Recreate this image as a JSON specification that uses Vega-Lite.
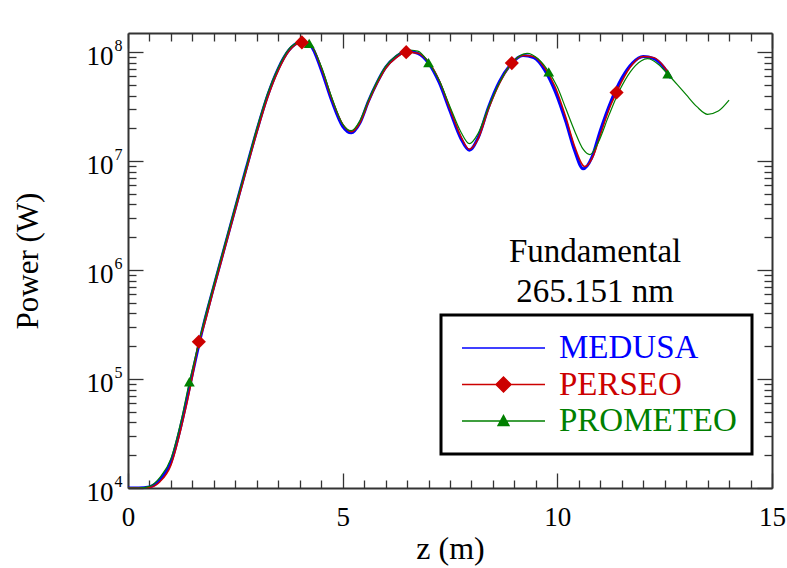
{
  "$schema": "https://vega.github.io/schema/vega-lite/v6.json",
  "width": 644,
  "height": 455,
  "autosize": {"type": "none"},
  "padding": {"left": 128, "top": 33, "right": 15, "bottom": 80},
  "background": "white",
  "config": {
    "view": {"stroke": null},
    "font": "Liberation Serif",
    "axis": {
      "grid": false,
      "labelFont": "Liberation Serif",
      "titleFont": "Liberation Serif",
      "labelColor": "black",
      "titleColor": "black",
      "titleFontWeight": "normal",
      "tickColor": "#333333",
      "domainColor": "#333333",
      "domainWidth": 2,
      "tickWidth": 1.3,
      "labelOverlap": false,
      "labelFlush": false,
      "labelBound": false
    }
  },
  "datasets": {
    "curves": [
      {"series": "MEDUSA", "z": 0, "P": 1e4}, {"series": "MEDUSA", "z": 0.25, "P": 1e4}, {"series": "MEDUSA", "z": 0.5, "P": 1.023e4}, {"series": "MEDUSA", "z": 0.75, "P": 1.202e4}, {"series": "MEDUSA", "z": 1.0, "P": 1.738e4}, {"series": "MEDUSA", "z": 1.25, "P": 3.981e4}, {"series": "MEDUSA", "z": 1.5, "P": 1.122e5}, {"series": "MEDUSA", "z": 1.75, "P": 3.02e5}, {"series": "MEDUSA", "z": 2.0, "P": 7.079e5}, {"series": "MEDUSA", "z": 2.25, "P": 1.622e6}, {"series": "MEDUSA", "z": 2.5, "P": 3.715e6}, {"series": "MEDUSA", "z": 2.75, "P": 8.511e6}, {"series": "MEDUSA", "z": 3.0, "P": 1.905e7}, {"series": "MEDUSA", "z": 3.25, "P": 3.981e7}, {"series": "MEDUSA", "z": 3.5, "P": 7.079e7}, {"series": "MEDUSA", "z": 3.75, "P": 1.047e8}, {"series": "MEDUSA", "z": 4.0, "P": 1.23e8}, {"series": "MEDUSA", "z": 4.25, "P": 1.148e8}, {"series": "MEDUSA", "z": 4.5, "P": 6.918e7}, {"series": "MEDUSA", "z": 4.75, "P": 3.548e7}, {"series": "MEDUSA", "z": 5.0, "P": 2.089e7}, {"series": "MEDUSA", "z": 5.2, "P": 1.82e7}, {"series": "MEDUSA", "z": 5.4, "P": 2.239e7}, {"series": "MEDUSA", "z": 5.6, "P": 3.548e7}, {"series": "MEDUSA", "z": 5.8, "P": 5.248e7}, {"series": "MEDUSA", "z": 6.0, "P": 7.244e7}, {"series": "MEDUSA", "z": 6.25, "P": 9.12e7}, {"series": "MEDUSA", "z": 6.5, "P": 1.023e8}, {"series": "MEDUSA", "z": 6.75, "P": 9.772e7}, {"series": "MEDUSA", "z": 7.0, "P": 7.943e7}, {"series": "MEDUSA", "z": 7.25, "P": 5.248e7}, {"series": "MEDUSA", "z": 7.5, "P": 2.884e7}, {"series": "MEDUSA", "z": 7.75, "P": 1.622e7}, {"series": "MEDUSA", "z": 7.95, "P": 1.259e7}, {"series": "MEDUSA", "z": 8.15, "P": 1.622e7}, {"series": "MEDUSA", "z": 8.4, "P": 3.162e7}, {"series": "MEDUSA", "z": 8.65, "P": 5.37e7}, {"series": "MEDUSA", "z": 8.9, "P": 7.586e7}, {"series": "MEDUSA", "z": 9.2, "P": 9.333e7}, {"series": "MEDUSA", "z": 9.45, "P": 8.913e7}, {"series": "MEDUSA", "z": 9.7, "P": 6.918e7}, {"series": "MEDUSA", "z": 9.95, "P": 4.365e7}, {"series": "MEDUSA", "z": 10.2, "P": 2.291e7}, {"series": "MEDUSA", "z": 10.4, "P": 1.259e7}, {"series": "MEDUSA", "z": 10.6, "P": 8.511e6}, {"series": "MEDUSA", "z": 10.8, "P": 1.072e7}, {"series": "MEDUSA", "z": 11.0, "P": 1.905e7}, {"series": "MEDUSA", "z": 11.25, "P": 3.548e7}, {"series": "MEDUSA", "z": 11.5, "P": 5.754e7}, {"series": "MEDUSA", "z": 11.75, "P": 7.943e7}, {"series": "MEDUSA", "z": 12.0, "P": 9.12e7}, {"series": "MEDUSA", "z": 12.25, "P": 8.71e7}, {"series": "MEDUSA", "z": 12.5, "P": 7.079e7}, {"series": "MEDUSA", "z": 12.65, "P": 5.754e7},
      {"series": "PERSEO", "z": 0, "P": 1e4}, {"series": "PERSEO", "z": 0.25, "P": 1e4}, {"series": "PERSEO", "z": 0.5, "P": 1.012e4}, {"series": "PERSEO", "z": 0.75, "P": 1.148e4}, {"series": "PERSEO", "z": 1.0, "P": 1.622e4}, {"series": "PERSEO", "z": 1.25, "P": 3.715e4}, {"series": "PERSEO", "z": 1.5, "P": 1.047e5}, {"series": "PERSEO", "z": 1.65, "P": 2.198e5}, {"series": "PERSEO", "z": 1.75, "P": 2.884e5}, {"series": "PERSEO", "z": 2.0, "P": 6.761e5}, {"series": "PERSEO", "z": 2.25, "P": 1.549e6}, {"series": "PERSEO", "z": 2.5, "P": 3.548e6}, {"series": "PERSEO", "z": 2.75, "P": 8.128e6}, {"series": "PERSEO", "z": 3.0, "P": 1.82e7}, {"series": "PERSEO", "z": 3.25, "P": 3.802e7}, {"series": "PERSEO", "z": 3.5, "P": 6.761e7}, {"series": "PERSEO", "z": 3.75, "P": 1.023e8}, {"series": "PERSEO", "z": 4.05, "P": 1.23e8}, {"series": "PERSEO", "z": 4.25, "P": 1.175e8}, {"series": "PERSEO", "z": 4.5, "P": 7.244e7}, {"series": "PERSEO", "z": 4.75, "P": 3.715e7}, {"series": "PERSEO", "z": 5.0, "P": 2.188e7}, {"series": "PERSEO", "z": 5.2, "P": 1.862e7}, {"series": "PERSEO", "z": 5.4, "P": 2.239e7}, {"series": "PERSEO", "z": 5.6, "P": 3.467e7}, {"series": "PERSEO", "z": 5.8, "P": 5.129e7}, {"series": "PERSEO", "z": 6.0, "P": 7.079e7}, {"series": "PERSEO", "z": 6.25, "P": 8.913e7}, {"series": "PERSEO", "z": 6.48, "P": 1.0e8}, {"series": "PERSEO", "z": 6.75, "P": 9.772e7}, {"series": "PERSEO", "z": 7.0, "P": 8.128e7}, {"series": "PERSEO", "z": 7.25, "P": 5.495e7}, {"series": "PERSEO", "z": 7.5, "P": 3.02e7}, {"series": "PERSEO", "z": 7.75, "P": 1.698e7}, {"series": "PERSEO", "z": 7.95, "P": 1.288e7}, {"series": "PERSEO", "z": 8.15, "P": 1.585e7}, {"series": "PERSEO", "z": 8.4, "P": 3.02e7}, {"series": "PERSEO", "z": 8.65, "P": 5.129e7}, {"series": "PERSEO", "z": 8.94, "P": 7.943e7}, {"series": "PERSEO", "z": 9.2, "P": 9.333e7}, {"series": "PERSEO", "z": 9.45, "P": 9.12e7}, {"series": "PERSEO", "z": 9.7, "P": 7.244e7}, {"series": "PERSEO", "z": 9.95, "P": 4.786e7}, {"series": "PERSEO", "z": 10.2, "P": 2.512e7}, {"series": "PERSEO", "z": 10.4, "P": 1.38e7}, {"series": "PERSEO", "z": 10.64, "P": 8.913e6}, {"series": "PERSEO", "z": 10.85, "P": 1.148e7}, {"series": "PERSEO", "z": 11.0, "P": 1.738e7}, {"series": "PERSEO", "z": 11.25, "P": 3.311e7}, {"series": "PERSEO", "z": 11.38, "P": 4.266e7}, {"series": "PERSEO", "z": 11.5, "P": 5.37e7}, {"series": "PERSEO", "z": 11.75, "P": 7.762e7}, {"series": "PERSEO", "z": 12.0, "P": 9.12e7}, {"series": "PERSEO", "z": 12.25, "P": 8.913e7}, {"series": "PERSEO", "z": 12.5, "P": 7.244e7}, {"series": "PERSEO", "z": 12.65, "P": 5.888e7},
      {"series": "PROMETEO", "z": 0, "P": 1e4}, {"series": "PROMETEO", "z": 0.25, "P": 1e4}, {"series": "PROMETEO", "z": 0.5, "P": 1.035e4}, {"series": "PROMETEO", "z": 0.75, "P": 1.259e4}, {"series": "PROMETEO", "z": 1.0, "P": 1.862e4}, {"series": "PROMETEO", "z": 1.25, "P": 4.365e4}, {"series": "PROMETEO", "z": 1.43, "P": 9.441e4}, {"series": "PROMETEO", "z": 1.5, "P": 1.23e5}, {"series": "PROMETEO", "z": 1.75, "P": 3.162e5}, {"series": "PROMETEO", "z": 2.0, "P": 7.413e5}, {"series": "PROMETEO", "z": 2.25, "P": 1.698e6}, {"series": "PROMETEO", "z": 2.5, "P": 3.89e6}, {"series": "PROMETEO", "z": 2.75, "P": 8.71e6}, {"series": "PROMETEO", "z": 3.0, "P": 1.995e7}, {"series": "PROMETEO", "z": 3.25, "P": 4.169e7}, {"series": "PROMETEO", "z": 3.5, "P": 7.244e7}, {"series": "PROMETEO", "z": 3.75, "P": 1.072e8}, {"series": "PROMETEO", "z": 4.0, "P": 1.23e8}, {"series": "PROMETEO", "z": 4.22, "P": 1.202e8}, {"series": "PROMETEO", "z": 4.5, "P": 7.413e7}, {"series": "PROMETEO", "z": 4.75, "P": 3.802e7}, {"series": "PROMETEO", "z": 5.0, "P": 2.188e7}, {"series": "PROMETEO", "z": 5.2, "P": 1.905e7}, {"series": "PROMETEO", "z": 5.4, "P": 2.344e7}, {"series": "PROMETEO", "z": 5.6, "P": 3.631e7}, {"series": "PROMETEO", "z": 5.8, "P": 5.37e7}, {"series": "PROMETEO", "z": 6.0, "P": 7.413e7}, {"series": "PROMETEO", "z": 6.25, "P": 9.333e7}, {"series": "PROMETEO", "z": 6.5, "P": 1.047e8}, {"series": "PROMETEO", "z": 6.75, "P": 1.023e8}, {"series": "PROMETEO", "z": 7.0, "P": 8.035e7}, {"series": "PROMETEO", "z": 7.25, "P": 5.495e7}, {"series": "PROMETEO", "z": 7.5, "P": 3.162e7}, {"series": "PROMETEO", "z": 7.75, "P": 1.862e7}, {"series": "PROMETEO", "z": 7.95, "P": 1.445e7}, {"series": "PROMETEO", "z": 8.15, "P": 1.778e7}, {"series": "PROMETEO", "z": 8.4, "P": 3.162e7}, {"series": "PROMETEO", "z": 8.65, "P": 5.248e7}, {"series": "PROMETEO", "z": 8.9, "P": 7.586e7}, {"series": "PROMETEO", "z": 9.1, "P": 9.12e7}, {"series": "PROMETEO", "z": 9.3, "P": 9.772e7}, {"series": "PROMETEO", "z": 9.55, "P": 8.71e7}, {"series": "PROMETEO", "z": 9.8, "P": 6.607e7}, {"series": "PROMETEO", "z": 10.0, "P": 4.786e7}, {"series": "PROMETEO", "z": 10.2, "P": 3.02e7}, {"series": "PROMETEO", "z": 10.4, "P": 1.905e7}, {"series": "PROMETEO", "z": 10.6, "P": 1.288e7}, {"series": "PROMETEO", "z": 10.76, "P": 1.148e7}, {"series": "PROMETEO", "z": 10.95, "P": 1.479e7}, {"series": "PROMETEO", "z": 11.2, "P": 2.63e7}, {"series": "PROMETEO", "z": 11.45, "P": 4.467e7}, {"series": "PROMETEO", "z": 11.7, "P": 6.607e7}, {"series": "PROMETEO", "z": 11.95, "P": 8.318e7}, {"series": "PROMETEO", "z": 12.1, "P": 8.71e7}, {"series": "PROMETEO", "z": 12.35, "P": 7.762e7}, {"series": "PROMETEO", "z": 12.57, "P": 6.31e7}, {"series": "PROMETEO", "z": 12.8, "P": 5.012e7}, {"series": "PROMETEO", "z": 13.0, "P": 4.074e7}, {"series": "PROMETEO", "z": 13.25, "P": 3.162e7}, {"series": "PROMETEO", "z": 13.5, "P": 2.692e7}, {"series": "PROMETEO", "z": 13.75, "P": 2.884e7}, {"series": "PROMETEO", "z": 14.0, "P": 3.631e7}
    ],
    "markers": [
      {"series": "PERSEO", "z": 1.65, "P": 2.198e5}, {"series": "PERSEO", "z": 4.05, "P": 1.23e8}, {"series": "PERSEO", "z": 6.48, "P": 1.0e8}, {"series": "PERSEO", "z": 8.94, "P": 7.943e7}, {"series": "PERSEO", "z": 11.38, "P": 4.266e7},
      {"series": "PROMETEO", "z": 1.43, "P": 9.441e4}, {"series": "PROMETEO", "z": 4.22, "P": 1.202e8}, {"series": "PROMETEO", "z": 7.0, "P": 8.035e7}, {"series": "PROMETEO", "z": 9.8, "P": 6.607e7}, {"series": "PROMETEO", "z": 12.57, "P": 6.31e7}
    ],
    "note": [
      {"z": 10.88, "P": 1.18e6, "label": "Fundamental\n265.151 nm"}
    ]
  },
  "resolve": {"axis": {"x": "independent", "y": "independent"}},
  "layer": [
    {
      "data": {"name": "curves"},
      "transform": [{"filter": "datum.series === 'MEDUSA'"}],
      "mark": {"type": "line", "interpolate": "monotone", "strokeWidth": 3, "clip": true},
      "encoding": {
        "x": {"field": "z", "type": "quantitative", "scale": {"domain": [0, 15], "nice": false, "zero": false},
          "axis": {"orient": "bottom", "values": [0, 5, 10, 15], "tickSize": -15, "labelFontSize": 27, "labelPadding": 31, "domain": true,
            "title": "z (m)", "titleFontSize": 32, "titleX": 322, "titleY": 70, "titleBaseline": "alphabetic", "titleAlign": "center"}},
        "y": {"field": "P", "type": "quantitative", "scale": {"type": "log", "domain": [1e4, 1.5e8], "nice": false},
          "axis": {"orient": "left", "values": [1e4, 1e5, 1e6, 1e7, 1e8], "tickSize": -15, "labelExpr": "'10'", "labelFontSize": 27, "labelPadding": 30, "labelOffset": 4, "domain": true,
            "title": "Power (W)", "titleFontSize": 31, "titleX": -91, "titleY": 227.5, "titleBaseline": "alphabetic", "titleAlign": "center", "titleAngle": 270}},
        "color": {"field": "series", "type": "nominal",
          "scale": {"domain": ["MEDUSA", "PERSEO", "PROMETEO"], "range": ["#0000ff", "#cc0000", "#008000"]},
          "legend": {
            "orient": "none", "legendX": 313, "legendY": 282, "title": null, "direction": "vertical",
            "symbolSize": 6889, "symbolStrokeWidth": 1.5, "symbolOffset": 5, "clipHeight": 36,
            "labelFont": "Liberation Serif", "labelFontSize": 33, "labelOffset": 13, "labelLimit": 400,
            "padding": 15, "rowPadding": 0.5, "strokeColor": "black", "fillColor": "white",
            "encode": {
              "symbols": {"update": {
                "shape": {"signal": "datum.value === 'MEDUSA' ? 'M-1,0H1' : (datum.value === 'PERSEO' ? 'M-1,0H1M-0.18,0L0,-0.18L0.18,0L0,0.18Z' : 'M-1,0H1M-0.13,0.11L0.13,0.11L0,-0.13Z')"},
                "fill": {"scale": "color", "field": "value"},
                "stroke": {"scale": "color", "field": "value"},
                "strokeWidth": {"value": 1.5},
                "opacity": {"value": 1}
              }},
              "labels": {"update": {"fill": {"scale": "color", "field": "value"}}},
              "legend": {"update": {"strokeWidth": {"value": 3}, "stroke": {"value": "black"}}}
            }
          }
        }
      }
    },
    {
      "data": {"name": "curves"},
      "transform": [{"filter": "datum.series === 'PERSEO'"}],
      "mark": {"type": "line", "interpolate": "monotone", "strokeWidth": 1.5, "clip": true},
      "encoding": {
        "x": {"field": "z", "type": "quantitative", "scale": {"domain": [0, 15], "nice": false, "zero": false},
          "axis": {"orient": "bottom", "values": [0.5, 1, 1.5, 2, 2.5, 3, 3.5, 4, 4.5, 5.5, 6, 6.5, 7, 7.5, 8, 8.5, 9, 9.5, 10.5, 11, 11.5, 12, 12.5, 13, 13.5, 14, 14.5], "tickSize": -8, "labels": false, "domain": false, "title": null}},
        "y": {"field": "P", "type": "quantitative", "scale": {"type": "log", "domain": [1e4, 1.5e8], "nice": false},
          "axis": {"orient": "left", "values": [2e4, 3e4, 4e4, 5e4, 6e4, 7e4, 8e4, 9e4, 2e5, 3e5, 4e5, 5e5, 6e5, 7e5, 8e5, 9e5, 2e6, 3e6, 4e6, 5e6, 6e6, 7e6, 8e6, 9e6, 2e7, 3e7, 4e7, 5e7, 6e7, 7e7, 8e7, 9e7], "tickSize": -8, "labels": false, "domain": false, "title": null}},
        "color": {"field": "series", "type": "nominal", "scale": {"domain": ["MEDUSA", "PERSEO", "PROMETEO"], "range": ["#0000ff", "#cc0000", "#008000"]}, "legend": null}
      }
    },
    {
      "data": {"name": "curves"},
      "transform": [{"filter": "datum.series === 'PROMETEO'"}],
      "mark": {"type": "line", "interpolate": "monotone", "strokeWidth": 1.2, "clip": true},
      "encoding": {
        "x": {"field": "z", "type": "quantitative", "scale": {"domain": [0, 15], "nice": false, "zero": false},
          "axis": {"orient": "top", "values": [0, 5, 10, 15], "tickSize": -15, "labels": false, "domain": true, "title": null}},
        "y": {"field": "P", "type": "quantitative", "scale": {"type": "log", "domain": [1e4, 1.5e8], "nice": false},
          "axis": {"orient": "right", "values": [1e4, 1e5, 1e6, 1e7, 1e8], "tickSize": -15, "labels": false, "domain": true, "title": null}},
        "color": {"field": "series", "type": "nominal", "scale": {"domain": ["MEDUSA", "PERSEO", "PROMETEO"], "range": ["#0000ff", "#cc0000", "#008000"]}, "legend": null}
      }
    },
    {
      "data": {"name": "markers"},
      "transform": [{"filter": "datum.series === 'PROMETEO'"}],
      "mark": {"type": "point", "shape": "triangle-up", "filled": true, "size": 115, "opacity": 1, "color": "#008000", "strokeWidth": 0},
      "encoding": {
        "x": {"field": "z", "type": "quantitative", "scale": {"domain": [0, 15], "nice": false, "zero": false},
          "axis": {"orient": "top", "values": [0.5, 1, 1.5, 2, 2.5, 3, 3.5, 4, 4.5, 5.5, 6, 6.5, 7, 7.5, 8, 8.5, 9, 9.5, 10.5, 11, 11.5, 12, 12.5, 13, 13.5, 14, 14.5], "tickSize": -8, "labels": false, "domain": false, "title": null}},
        "y": {"field": "P", "type": "quantitative", "scale": {"type": "log", "domain": [1e4, 1.5e8], "nice": false},
          "axis": {"orient": "right", "values": [2e4, 3e4, 4e4, 5e4, 6e4, 7e4, 8e4, 9e4, 2e5, 3e5, 4e5, 5e5, 6e5, 7e5, 8e5, 9e5, 2e6, 3e6, 4e6, 5e6, 6e6, 7e6, 8e6, 9e6, 2e7, 3e7, 4e7, 5e7, 6e7, 7e7, 8e7, 9e7], "tickSize": -8, "labels": false, "domain": false, "title": null}}
      }
    },
    {
      "data": {"name": "markers"},
      "transform": [{"filter": "datum.series === 'PERSEO'"}],
      "mark": {"type": "point", "shape": "diamond", "filled": true, "size": 200, "opacity": 1, "color": "#cc0000", "strokeWidth": 0},
      "encoding": {
        "x": {"field": "z", "type": "quantitative", "scale": {"domain": [0, 15], "nice": false, "zero": false}, "axis": null},
        "y": {"field": "P", "type": "quantitative", "scale": {"type": "log", "domain": [1e4, 1.5e8], "nice": false},
          "axis": {"orient": "left", "values": [1e4, 1e5, 1e6, 1e7, 1e8], "ticks": false, "tickSize": 0, "domain": false, "title": null,
            "labelExpr": "'' + round(log(datum.value) / LN10)", "labelFontSize": 16, "labelPadding": 6, "labelOffset": -6.5}}
      }
    },
    {
      "data": {"name": "note"},
      "mark": {"type": "text", "font": "Liberation Serif", "fontSize": 33, "align": "center", "baseline": "alphabetic", "lineBreak": "\n", "lineHeight": 40, "color": "black"},
      "encoding": {
        "x": {"field": "z", "type": "quantitative", "scale": {"domain": [0, 15], "nice": false, "zero": false}, "axis": null},
        "y": {"field": "P", "type": "quantitative", "scale": {"type": "log", "domain": [1e4, 1.5e8], "nice": false}, "axis": null},
        "text": {"field": "label"}
      }
    }
  ]
}
